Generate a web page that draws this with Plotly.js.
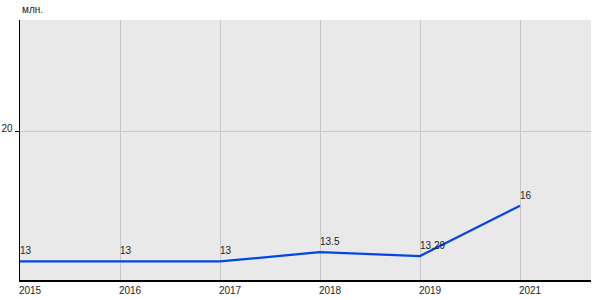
<!DOCTYPE html>
<html><head><meta charset="utf-8">
<script src="https://cdn.plot.ly/plotly-3.0.1.min.js"></script>
<style>body{margin:0;}#chart{width:600px;height:300px;}</style>
</head><body><div id="chart"></div>
<script>
const years = ['2015','2016','2017','2018','2019','2021'];
const values = [13, 13, 13, 13.5, 13.29, 16];
const labels = ['13','13','13','13.5','13.29','16'];
const yTicks = [20];
const unitLabel = 'млн.';

const trace = {
  x: years, y: values, type: 'scatter', mode: 'lines',
  line: {color: '#0046e6', width: 2.2},
  hoverinfo: 'none'
};
const valueAnnotations = years.map((yr, i) => ({
  x: i, y: values[i], xref: 'x', yref: 'y', text: labels[i], showarrow: false,
  xanchor: 'left', yanchor: 'bottom', xshift: -2, yshift: 3,
  font: {size: 10, color: '#222'}
}));
const layout = {
  width: 600, height: 300,
  margin: {l: 20, r: 9, t: 20, b: 20},
  paper_bgcolor: '#ffffff', plot_bgcolor: '#e9e9e9',
  showlegend: false,
  font: {family: 'Liberation Sans, Arial, sans-serif', size: 10, color: '#222'},
  xaxis: {type: 'category', range: [0, 5.71], showgrid: true, gridcolor: '#c6c6c6', gridwidth: 1,
    showline: true, linecolor: '#000', linewidth: 1.5, ticks: '', zeroline: false,
    ticklabelshift: 10, ticklabelstandoff: 0, tickfont: {size: 10, color: '#222'}, fixedrange: true},
  yaxis: {range: [12, 26], tickvals: yTicks, ticktext: yTicks.map(String), showgrid: true, gridcolor: '#c6c6c6',
    showline: true, linecolor: '#000', linewidth: 1.5, ticks: 'outside', ticklen: 4, tickcolor: '#000',
    zeroline: false, ticklabelshift: -3, tickfont: {size: 10, color: '#222'}, fixedrange: true},
  annotations: [{text: unitLabel, xref: 'paper', yref: 'paper', x: 0, y: 1, xanchor: 'left', yanchor: 'bottom',
    yshift: 3, showarrow: false, font: {size: 10, color: '#222'}}].concat(valueAnnotations)
};
Plotly.newPlot('chart', [trace], layout, {displayModeBar: false, staticPlot: true});
</script></body></html>
